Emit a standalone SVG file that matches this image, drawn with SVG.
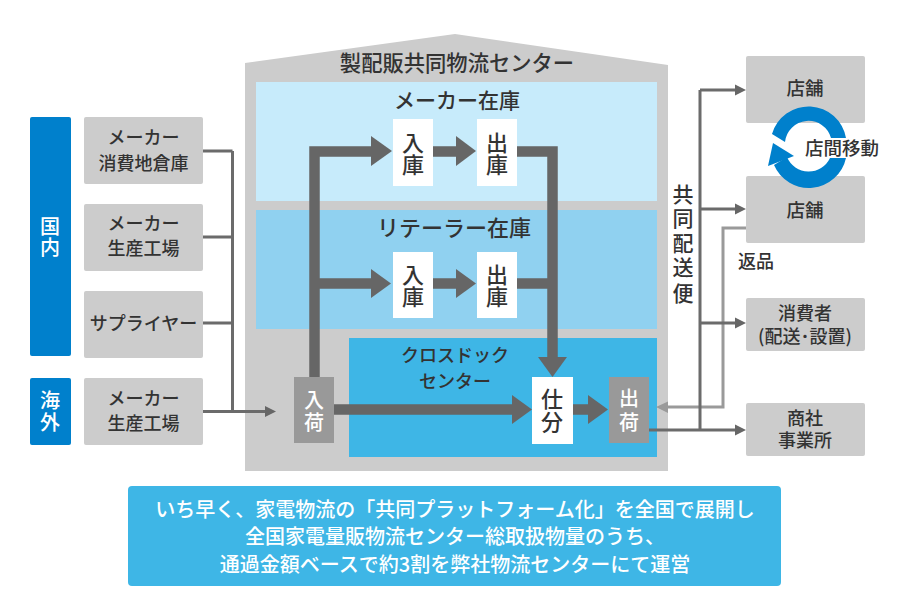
<svg xmlns="http://www.w3.org/2000/svg" width="912" height="600" viewBox="0 0 912 600">
<style>
text{font-family:"Noto Sans CJK JP","Noto Sans",sans-serif;fill:#333;text-anchor:middle;font-weight:500}
.t18{font-size:18px}.t185{font-size:18.5px}.t20{font-size:20px}.t21{font-size:21px}.t22{font-size:22px}
.wt{fill:#fff}
.b{fill:#ccc}
.thin{fill:none;stroke:#6b6b6b;stroke-width:3}
.ret{fill:none;stroke:#9a9a9a;stroke-width:3}
.thick{fill:none;stroke:#666;stroke-width:10.5}
.ah{fill:#666}
.wb{fill:#fff}
.gb{fill:#999}
.blue{fill:#0080cc}
</style>
<rect width="912" height="600" fill="#fff"/>
<g id="center">
<polygon points="245,63 455,34 668,65 668,471 245,471" fill="#ccc"/>
<text class="t21" style="font-size:21.3px" x="457" y="71">製配販共同物流センター</text>
</g>
<g id="maker-stock"><rect x="256" y="82" width="401" height="119" fill="#c7ebfb"/><text class="t21" x="457" y="108">メーカー在庫</text></g>
<g id="retailer-stock"><rect x="256" y="210" width="401" height="119" fill="#90d1f0"/><text class="t22" x="454" y="236">リテーラー在庫</text></g>
<g id="crossdock"><rect x="349" y="338" width="308" height="119" fill="#3eb6e6"/><text class="t18" x="455" y="362">クロスドック</text><text class="t18" x="455" y="388">センター</text></g>
<g id="connectors">
<path class="thin" d="M203 151H232.500M203 237H232.500M203 323H232.500M203 411.500H266M232.500 151V411.500"/>
<polygon class="ah" points="265,406 276,411.500 265,417"/>
<path class="thick" d="M314.500 378V151.500H372M314.500 283.500H372M433 151.500H457M433 283.500H457M517 151.500H552.500V358M517 283.500H552.500M334 409.500H513M573 409.500H589"/>
<polygon class="ah" points="371,136 392,151 371,166"/>
<polygon class="ah" points="371,269 391,283.500 371,298"/>
<polygon class="ah" points="456,136 476,151 456,166"/>
<polygon class="ah" points="456,269 476,283.500 456,298"/>
<polygon class="ah" points="512,395 532,409.500 512,424"/>
<polygon class="ah" points="588,395 608,409.500 588,424"/>
<polygon class="ah" points="538,357 567,357 552.500,377"/>
<path class="ret" d="M746 228H723V407H666"/>
<polygon points="656,407 668,401.500 668,413" fill="#9a9a9a"/>
<path class="thin" d="M700 90V430M649 430H736M700 90H736M700 209H736M700 323H736"/>
<polygon class="ah" points="735,84.500 746,90 735,95.500"/>
<polygon class="ah" points="735,203.500 746,209 735,214.500"/>
<polygon class="ah" points="735,317.500 746,323 735,328.500"/>
<polygon class="ah" points="735,424.500 746,430 735,435.500"/>
</g>
<g id="domestic"><rect x="30" y="117" width="41" height="239" rx="2" class="blue"/><text class="t20 wt" x="50"><tspan x="50" y="234">国</tspan><tspan x="50" y="255">内</tspan></text></g>
<g id="overseas"><rect x="30" y="378" width="41" height="67" rx="2" class="blue"/><text class="t20 wt"><tspan x="50" y="408">海</tspan><tspan x="50" y="430">外</tspan></text></g>
<g id="src1"><rect class="b" x="84" y="117" width="119" height="67" rx="2"/><text class="t18"><tspan x="143.500" y="144">メーカー</tspan><tspan x="143.500" y="170">消費地倉庫</tspan></text></g>
<g id="src2"><rect class="b" x="84" y="204" width="119" height="67" rx="2"/><text class="t18"><tspan x="143.500" y="230">メーカー</tspan><tspan x="143.500" y="255">生産工場</tspan></text></g>
<g id="src3"><rect class="b" x="84" y="291" width="119" height="67" rx="2"/><text class="t18" x="143.500" y="330">サプライヤー</text></g>
<g id="src4"><rect class="b" x="84" y="378" width="119" height="67" rx="2"/><text class="t18"><tspan x="143.500" y="405">メーカー</tspan><tspan x="143.500" y="430">生産工場</tspan></text></g>
<g id="in1"><rect class="wb" x="393" y="119" width="40" height="67"/><text class="t22"><tspan x="413" y="150.500">入</tspan><tspan x="413" y="172.500">庫</tspan></text></g>
<g id="out1"><rect class="wb" x="477" y="119" width="40" height="67"/><text class="t22"><tspan x="497" y="150.500">出</tspan><tspan x="497" y="172.500">庫</tspan></text></g>
<g id="in2"><rect class="wb" x="393" y="252" width="40" height="66"/><text class="t22"><tspan x="413" y="282.500">入</tspan><tspan x="413" y="304.500">庫</tspan></text></g>
<g id="out2"><rect class="wb" x="477" y="252" width="40" height="66"/><text class="t22"><tspan x="497" y="282.500">出</tspan><tspan x="497" y="304.500">庫</tspan></text></g>
<g id="sort"><rect class="wb" x="532" y="377" width="41" height="67"/><text class="t22"><tspan x="552" y="407">仕</tspan><tspan x="552" y="429.500">分</tspan></text></g>
<g id="receive"><rect class="gb" x="294" y="377" width="40" height="66"/><text class="t20 wt"><tspan x="314" y="408">入</tspan><tspan x="314" y="430">荷</tspan></text></g>
<g id="ship"><rect class="gb" x="609" y="377" width="40" height="66"/><text class="t20 wt"><tspan x="629" y="406">出</tspan><tspan x="629" y="430">荷</tspan></text></g>
<g id="joint-delivery"><text class="t21"><tspan x="683" y="202">共</tspan><tspan x="683" y="226">同</tspan><tspan x="683" y="251">配</tspan><tspan x="683" y="275">送</tspan><tspan x="683" y="301">便</tspan></text></g>
<g id="store1"><rect class="b" x="746" y="56" width="119" height="67" rx="2"/><text class="t185" x="805" y="95">店舗</text></g>
<g id="store2"><rect class="b" x="746" y="176" width="119" height="67" rx="2"/><text class="t185" x="805" y="217">店舗</text></g>
<g id="transfer">
<path class="blue" d="M846 138A38 38 0 0 0 772 134L785 142A23.500 23.500 0 0 1 831 138Z"/>
<path class="blue" d="M846 158A38 38 0 0 1 774 165L787 157A23.500 23.500 0 0 0 830 158Z"/>
<polygon class="blue" points="773,143 794,156 768,166"/>
<text class="t185" x="842" y="155">店間移動</text>
</g>
<g id="return-label"><text class="t18" x="756" y="268">返品</text></g>
<g id="consumer"><rect class="b" x="746" y="298" width="119" height="53" rx="2"/><text class="t18"><tspan x="805" y="320">消費者</tspan><tspan x="805" y="343">(配送･設置)</tspan></text></g>
<g id="trading"><rect class="b" x="746" y="403" width="119" height="53" rx="2"/><text class="t18"><tspan x="805" y="425">商社</tspan><tspan x="805" y="447">事業所</tspan></text></g>
<g id="note"><rect x="128" y="486" width="653" height="100" rx="4" fill="#3eb6e6"/>
<text class="t20 wt"><tspan x="455" y="517">いち早く、家電物流の「共同プラットフォーム化」を全国で展開し</tspan><tspan x="455" y="544">全国家電量販物流センター総取扱物量のうち、</tspan><tspan x="455" y="572">通過金額ベースで約3割を弊社物流センターにて運営</tspan></text></g>
</svg>
